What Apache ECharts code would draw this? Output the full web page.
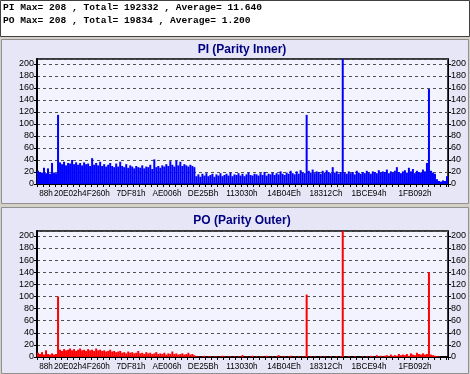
<!DOCTYPE html>
<html><head><meta charset="utf-8">
<script src="https://cdn.jsdelivr.net/npm/echarts@6/dist/echarts.min.js"></script>
<style>html,body{margin:0;padding:0;background:#d4d0c8;}#c{width:470px;height:374px;}</style>
</head><body><div id="c"></div>
<script>
// ---- data ----
const statLines = [
  'PI Max= 208 , Total= 192332 , Average= 11.640',
  'PO Max= 208 , Total= 19834 , Average= 1.200'
];
const titles = ['PI (Parity Inner)', 'PO (Parity Outer)'];
const tickLabels = ['88h','20E02h','4F260h','7DF81h','AE006h','DE25Bh','113030h','14B04Eh','18312Ch','1BCE94h','1FB092h'];
const lbaEnd = 2256000;
const yTicks = [0,20,40,60,80,100,120,140,160,180,200];
const piValues = [
  22,20,19,27,18,26,17,35,19,18,
  115,
  36,33,37,31,35,34,40,33,36,32,
  35,31,36,33,34,30,43,32,35,31,
  37,30,33,29,32,35,30,28,34,29,
  37,30,28,33,27,31,29,26,30,28,
  27,31,26,29,28,32,25,41,28,30,
  27,31,29,33,30,38,32,29,39,31,
  37,30,33,31,29,32,30,28,
  13,16,12,17,14,18,13,15,17,12,
  16,14,18,13,15,17,14,19,13,16,
  15,18,14,17,13,16,19,15,14,17,
  16,14,18,15,20,14,17,16,19,15,
  18,16,21,17,15,19,17,22,18,16,
  21,17,23,19,18,
  115,
  22,19,24,18,21,20,17,22,19,23,
  20,18,28,19,21,17,20,
  208,
  19,17,21,18,20,16,22,19,17,20,
  18,22,19,17,21,20,18,23,19,21,
  20,24,18,21,19,22,28,20,18,21,
  23,19,27,21,25,18,22,20,19,24,21,
  35,158,
  22,19,17,8,
  5,4,6,5,13
];
const poValues = [
  7,5,8,4,11,5,4,6,4,5,
  100,
  12,10,13,11,12,14,11,13,10,12,
  14,11,12,10,13,11,12,10,14,11,
  12,10,11,9,10,12,9,10,8,9,
  10,7,8,6,9,7,8,6,7,10,
  6,7,5,8,6,7,5,6,8,5,
  6,5,7,4,6,5,9,5,6,4,
  5,6,4,5,7,4,5,3,
  1,1,0,1,2,0,1,1,0,1,
  1,0,1,2,1,0,1,1,0,1,
  0,1,1,3,0,1,0,1,2,0,
  1,0,1,1,0,2,1,0,1,0,
  1,3,0,1,1,0,1,2,0,1,
  0,1,0,1,1,
  103,
  0,1,0,1,0,0,1,0,1,0,
  0,1,0,0,1,0,1,
  208,
  0,0,1,0,0,1,0,0,0,1,
  0,1,0,2,1,0,3,1,2,1,
  2,3,1,4,2,3,2,5,3,4,
  3,5,2,6,4,3,7,5,4,6,4,
  5,140,
  4,3,2,1,
  1,0,0,0,0
];
const yMax = 208;

// ---- layout / style ----
const plotW = 411;
const categories = piValues.map((_, i) => String(i));
const tickLBA = tickLabels.map(s => parseInt(s.replace('h', ''), 16));
// one label slot per pixel column of the plot, each slot named by its sector address
const columns = Array.from({length: plotW + 1}, (_, i) => String(Math.round(i * lbaEnd / plotW)));
const labelPush = [9, 6]; // the original pushes its first two labels right so they do not collide
const labelCol = tickLBA.map((l, k) => Math.round(l / lbaEnd * plotW) + (labelPush[k] || 0));
const panelBg = '#e6e6f6';
const plotBg = '#f3f3ff';
const yLabelFont = {fontFamily: 'Liberation Sans', fontSize: 9, color: '#000'};
const xLabelFont = {fontFamily: 'Liberation Sans', fontSize: 8.2, color: '#000'};
const gridPos = [
  {left: 37, top: 59, width: plotW, height: 125},
  {left: 37, top: 231, width: plotW, height: 126}
];

function catAxis(g) {
  return {
    type: 'category', gridIndex: g, data: categories, boundaryGap: true,
    axisLine: {lineStyle: {color: '#000', width: 2}},
    axisTick: {show: true, length: 3, interval: 2, lineStyle: {color: '#000'}},
    axisLabel: {show: false},
    splitLine: {show: false}
  };
}
function lbaAxis(g) {
  return {
    type: 'category', gridIndex: g, position: 'bottom', data: columns, boundaryGap: false,
    axisLine: {show: false}, axisTick: {show: false}, splitLine: {show: false},
    axisLabel: Object.assign({
      margin: 6, interval: 0, hideOverlap: false,
      formatter: (v, idx) => { const k = labelCol.indexOf(idx); return k >= 0 ? tickLabels[k] : ''; }
    }, xLabelFont)
  };
}
function yAxis(g, pos) {
  return {
    type: 'value', gridIndex: g, position: pos, min: 0, max: yMax, interval: 20,
    axisLine: {show: true, lineStyle: {color: '#000', width: pos === 'left' ? 2 : 1}},
    axisTick: {show: true, length: 3, lineStyle: {color: '#000'}},
    axisLabel: Object.assign({
      margin: 3, showMaxLabel: false,
      formatter: (v) => yTicks.indexOf(v) >= 0 ? String(v) : ''
    }, yLabelFont),
    splitLine: {show: pos === 'left', lineStyle: {color: '#505050', type: [3, 3], width: 1}}
  };
}
function bars(g, data, color) {
  return {
    type: 'bar', xAxisIndex: g, yAxisIndex: g * 2, data: data,
    barCategoryGap: '0%', barGap: '0%',
    itemStyle: {color: color}, silent: true, animation: false
  };
}

const chart = echarts.init(document.getElementById('c'), null, {renderer: 'canvas'});
chart.setOption({
  animation: false,
  backgroundColor: '#d4d0c8',
  graphic: [
    {type: 'rect', z: -10, shape: {x: 0.5, y: 0.5, width: 469, height: 36}, style: {fill: '#ffffff', stroke: '#404040', lineWidth: 1}},
    {type: 'rect', z: -10, shape: {x: 1.5, y: 39.5, width: 467, height: 164}, style: {fill: panelBg, stroke: '#909090', lineWidth: 1}},
    {type: 'rect', z: -10, shape: {x: 1.5, y: 207.5, width: 467, height: 166}, style: {fill: panelBg, stroke: '#909090', lineWidth: 1}},
    {type: 'text', x: 3, y: 8, style: {text: statLines[0], font: 'bold 9.6px "Liberation Mono"', fill: '#000', verticalAlign: 'middle'}},
    {type: 'text', x: 3, y: 21, style: {text: statLines[1], font: 'bold 9.6px "Liberation Mono"', fill: '#000', verticalAlign: 'middle'}},
    {type: 'text', x: 242, y: 50, style: {text: titles[0], font: 'bold 12px "Liberation Sans"', fill: '#000080', align: 'center', verticalAlign: 'middle'}},
    {type: 'text', x: 242, y: 221, style: {text: titles[1], font: 'bold 12px "Liberation Sans"', fill: '#000080', align: 'center', verticalAlign: 'middle'}}
  ],
  grid: gridPos.map(p => Object.assign({show: true, backgroundColor: plotBg, borderColor: '#000', borderWidth: 1.5}, p)),
  xAxis: [catAxis(0), catAxis(1), lbaAxis(0), lbaAxis(1)],
  yAxis: [yAxis(0, 'left'), yAxis(0, 'right'), yAxis(1, 'left'), yAxis(1, 'right')],
  series: [bars(0, piValues, '#0000ff'), bars(1, poValues, '#ff0000')]
});
</script>
</body></html>
